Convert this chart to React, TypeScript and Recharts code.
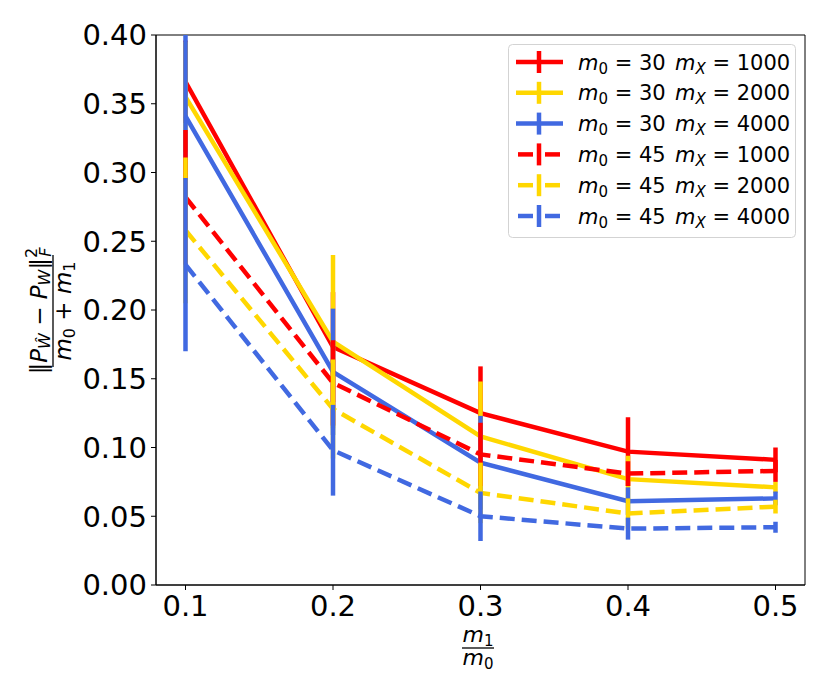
import { ErrorBar, Line, LineChart, ReferenceArea, XAxis, YAxis } from "recharts";

// x values are m1 / m0
const ratios = [0.1, 0.2, 0.3, 0.4, 0.5];
const yTicks = [0, 0.05, 0.1, 0.15, 0.2, 0.25, 0.3, 0.35, 0.4];

const m30x1000 = [0.366, 0.173, 0.125, 0.097, 0.091];
const m30x1000Err = [0.03, 0.04, 0.034, 0.025, 0.009];
const m30x2000 = [0.355, 0.177, 0.108, 0.077, 0.071];
const m30x2000Err = [0.04, 0.063, 0.04, 0.017, 0.004];
const m30x4000 = [0.341, 0.155, 0.089, 0.061, 0.063];
const m30x4000Err = [0.059, 0.046, 0.034, 0.01, 0.005];
const m45x1000 = [0.282, 0.147, 0.095, 0.081, 0.083];
const m45x1000Err = [0.049, 0.031, 0.023, 0.009, 0.008];
const m45x2000 = [0.258, 0.128, 0.067, 0.052, 0.057];
const m45x2000Err = [0.053, 0.036, 0.022, 0.011, 0.005];
const m45x4000 = [0.233, 0.098, 0.05, 0.041, 0.042];
const m45x4000Err = [0.063, 0.033, 0.018, 0.008, 0.004];

type Series = {
  key: string;
  m0: number;
  mx: number;
  color: string;
  dashed: boolean;
  values: number[];
  errors: number[];
};

const series: Series[] = [
  { key: "a", m0: 30, mx: 1000, color: "#ff0000", dashed: false, values: m30x1000, errors: m30x1000Err },
  { key: "b", m0: 30, mx: 2000, color: "#ffd700", dashed: false, values: m30x2000, errors: m30x2000Err },
  { key: "c", m0: 30, mx: 4000, color: "#4169e1", dashed: false, values: m30x4000, errors: m30x4000Err },
  { key: "d", m0: 45, mx: 1000, color: "#ff0000", dashed: true, values: m45x1000, errors: m45x1000Err },
  { key: "e", m0: 45, mx: 2000, color: "#ffd700", dashed: true, values: m45x2000, errors: m45x2000Err },
  { key: "f", m0: 45, mx: 4000, color: "#4169e1", dashed: true, values: m45x4000, errors: m45x4000Err },
];

const rows = ratios.map((r, i) => {
  const row: Record<string, number> = { ratio: r };
  series.forEach((s) => {
    row[s.key] = s.values[i];
    row[s.key + "Err"] = s.errors[i];
  });
  return row;
});

const FONT = "'DejaVu Sans', sans-serif";
const tickStyle = { fontSize: 29, fill: "#000", fontFamily: FONT };

function Overlay() {
  return (
    <svg
      width={830}
      height={692}
      style={{ position: "absolute", left: 0, top: 0, pointerEvents: "none" }}
      fontFamily={FONT}
    >
      {/* y label */}
      <g transform="translate(53,311) rotate(-90)">
        <text x={0} y={-6} textAnchor="middle" fontSize={23}>
          <tspan>‖</tspan>
          <tspan fontStyle="italic">P</tspan>
          <tspan dy={3} fontSize={16} fontStyle="italic">Ŵ</tspan>
          <tspan dy={-3}> − </tspan>
          <tspan fontStyle="italic">P</tspan>
          <tspan dy={3} fontSize={16} fontStyle="italic">W</tspan>
          <tspan dy={-3}>‖</tspan>
          <tspan dy={-10} fontSize={16}>2</tspan>
          <tspan dx={-9} dy={14} fontSize={16} fontStyle="italic">F</tspan>
        </text>
        <line x1={-56} x2={56} y1={0} y2={0} stroke="#000" strokeWidth={1.3} />
        <text x={0} y={18} textAnchor="middle" fontSize={23}>
          <tspan fontStyle="italic">m</tspan>
          <tspan dy={4} fontSize={16}>0</tspan>
          <tspan dy={-4}> + </tspan>
          <tspan fontStyle="italic">m</tspan>
          <tspan dy={4} fontSize={16}>1</tspan>
        </text>
      </g>

      {/* x label */}
      <text x={478} y={642} textAnchor="middle" fontSize={22}>
        <tspan fontStyle="italic">m</tspan>
        <tspan dy={4} fontSize={15}>1</tspan>
      </text>
      <line x1={462} x2={494} y1={648} y2={648} stroke="#000" strokeWidth={1.3} />
      <text x={478} y={665} textAnchor="middle" fontSize={22}>
        <tspan fontStyle="italic">m</tspan>
        <tspan dy={4} fontSize={15}>0</tspan>
      </text>

      {/* legend */}
      <g transform="translate(508,44)">
        <rect x={0.5} y={0.5} width={287} height={193} rx={4} fill="rgba(255,255,255,0.8)" stroke="#d3d3d3" />
        {series.map((s, i) => {
          const cy = 18 + i * 30.8;
          return (
            <g key={s.key}>
              {s.dashed ? (
                <>
                  <line x1={10} x2={25} y1={cy} y2={cy} stroke={s.color} strokeWidth={4.5} />
                  <line x1={37} x2={52} y1={cy} y2={cy} stroke={s.color} strokeWidth={4.5} />
                </>
              ) : (
                <line x1={8} x2={55} y1={cy} y2={cy} stroke={s.color} strokeWidth={4.5} />
              )}
              <line x1={31} x2={31} y1={cy - 11} y2={cy + 11} stroke={s.color} strokeWidth={4.5} />
              <text x={70} y={cy + 7.5} fontSize={21}>
                <tspan fontStyle="italic">m</tspan>
                <tspan dy={4} fontSize={15}>0</tspan>
                <tspan dy={-4}>{` = ${s.m0}`}</tspan>
              </text>
              <text x={167} y={cy + 7.5} fontSize={21}>
                <tspan fontStyle="italic">m</tspan>
                <tspan dy={4} fontSize={15} fontStyle="italic">X</tspan>
                <tspan dy={-4}>{` = ${s.mx}`}</tspan>
              </text>
            </g>
          );
        })}
      </g>
    </svg>
  );
}

export default function App() {
  return (
    <div style={{ position: "absolute", left: 0, top: 0, width: 830, height: 692, background: "#fff" }}>
      <LineChart width={830} height={692} data={rows} margin={{ top: 35, right: 25, bottom: 47, left: 56 }}>
        <XAxis
          dataKey="ratio"
          type="number"
          domain={[0.08, 0.52]}
          ticks={ratios}
          allowDataOverflow
          tickFormatter={(v: number) => v.toFixed(1)}
          tick={tickStyle}
          tickSize={5}
          tickMargin={5}
          height={60}
          stroke="#000"
        />
        <YAxis
          type="number"
          domain={[0, 0.4]}
          ticks={yTicks}
          allowDataOverflow
          tickFormatter={(v: number) => v.toFixed(2)}
          tick={tickStyle}
          tickSize={5}
          tickMargin={4}
          width={100}
          stroke="#000"
        />
        {series.map((s) => (
          <Line
            key={s.key}
            dataKey={s.key}
            type="linear"
            stroke={s.color}
            strokeWidth={4.5}
            strokeDasharray={s.dashed ? "15 7" : undefined}
            dot={false}
            activeDot={false}
            isAnimationActive={false}
          >
            <ErrorBar dataKey={s.key + "Err"} direction="y" width={0} stroke={s.color} strokeWidth={4.5} />
          </Line>
        ))}
        <ReferenceArea x1={0.08} x2={0.52} y1={0} y2={0.4} fill="none" stroke="#000" strokeWidth={1} ifOverflow="visible" />
      </LineChart>
      <Overlay />
    </div>
  );
}
